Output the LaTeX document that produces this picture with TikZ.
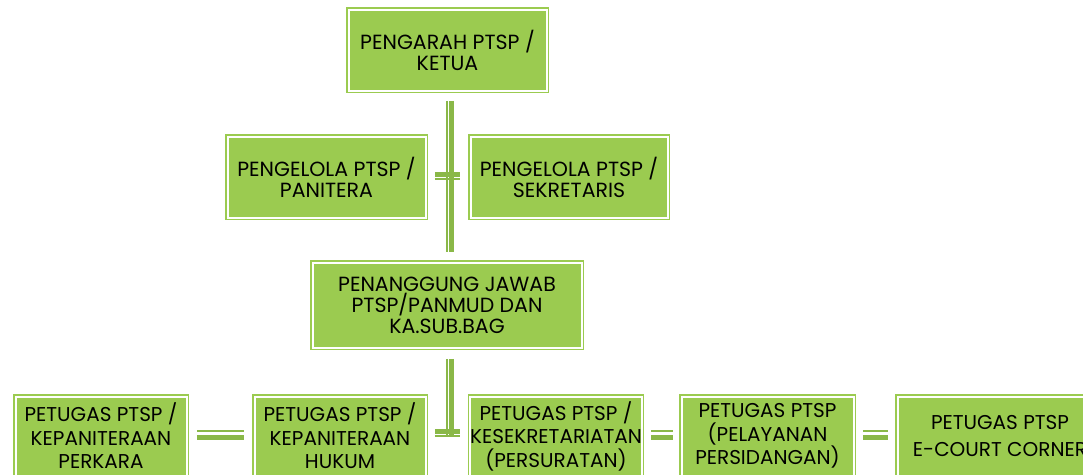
\documentclass[tikz,border=0pt]{standalone}
\usepackage{fontspec}
\setmainfont{Poppins}
\usetikzlibrary{calc}
\definecolor{boxgreen}{HTML}{9BCB50}
\definecolor{linegreen}{HTML}{8AB848}
\tikzset{
  orgbox/.style={draw=boxgreen, fill=boxgreen, double=white, double distance=2pt,
    line width=1.5pt, inner sep=0pt, align=center, text=black,
    font=\fontsize{20.5}{21}\selectfont},
  lowbox/.style={orgbox, minimum width=171pt, minimum height=79pt,
    font=\fontsize{20}{23.5}\selectfont},
  thickbar/.style={draw=linegreen, line width=5pt},
  thinbar/.style={draw=linegreen, line width=2pt},
}
\begin{document}
\begin{tikzpicture}[x=1pt,y=-1pt]
\useasboundingbox (0,0) rectangle (1083,474);
\clip (0,0) rectangle (1083,474);
% upper boxes
\node[orgbox, minimum width=198pt, minimum height=81pt] (top) at (447.5,50) {PENGARAH PTSP /\\KETUA};
\node[orgbox, minimum width=198pt, minimum height=81pt] (panitera) at (326.5,177) {PENGELOLA PTSP /\\PANITERA};
\node[orgbox, minimum width=197pt, minimum height=81pt] (sekretaris) at (569,177) {PENGELOLA PTSP /\\SEKRETARIS};
\node[orgbox, minimum width=269pt, minimum height=85pt] (pen) at (447,305) {PENANGGUNG JAWAB\\PTSP/PANMUD DAN\\KA.SUB.BAG};
% lower boxes
\node[lowbox] (b1) at (101,436) {PETUGAS PTSP /\\KEPANITERAAN\\PERKARA};
\node[lowbox] (b2) at (340,436) {PETUGAS PTSP /\\KEPANITERAAN\\HUKUM};
\node[lowbox] (b3) at (556,436) {PETUGAS PTSP /\\KESEKRETARIATAN\\(PERSURATAN)};
\node[lowbox, minimum width=172pt] (b4) at (767.5,436) {PETUGAS PTSP\\(PELAYANAN\\PERSIDANGAN)};
\node[lowbox, minimum width=205pt] (b5) at (1000,436) {PETUGAS PTSP\\[3pt]E-COURT CORNER};
% vertical trunk top -> pen
\draw[thickbar] ($(top.south)+(4,9.5)$) -- ($(pen.north)+(4.5,-9.5)$);
\draw[thinbar] ($(top.south)+(-0.5,9.5)$) -- ($(pen.north)+(0,-9.5)$);
% stub between pengelola boxes
\draw[thickbar] ($(panitera.east)+(8.5,-2.5)$) -- ($(sekretaris.west)+(-9.5,-2.5)$);
\draw[thinbar] ($(panitera.east)+(8.5,2)$) -- ($(sekretaris.west)+(-9.5,2)$);
% vertical pen -> lower row
\draw[thickbar] ($(pen.south)+(4.5,10.5)$) -- ($(pen.south |- b2.east)+(4.5,1)$);
\draw[thinbar] ($(pen.south)+(0,10.5)$) -- ($(pen.south |- b2.east)+(0,1)$);
\draw[thickbar] ($(b2.east)+(8.5,-4.5)$) -- ($(b3.west)+(-9.5,-4.5)$);
\draw[thinbar] ($(b2.east)+(8.5,0)$) -- ($(b3.west)+(-9.5,0)$);
% horizontal links in lower row
\draw[thinbar] ($(b1.east)+(9.5,-5.5)$) -- ($(b2.west)+(-9.5,-5.5)$);
\draw[thickbar] ($(b1.east)+(9.5,1)$) -- ($(b2.west)+(-9.5,1)$);
\draw[thinbar] ($(b3.east)+(8.5,-5.5)$) -- ($(b4.west)+(-7.5,-5.5)$);
\draw[thickbar] ($(b3.east)+(8.5,1)$) -- ($(b4.west)+(-7.5,1)$);
\draw[thinbar] ($(b4.east)+(8.5,-5.5)$) -- ($(b5.west)+(-8.5,-5.5)$);
\draw[thickbar] ($(b4.east)+(8.5,1)$) -- ($(b5.west)+(-8.5,1)$);
\end{tikzpicture}
\end{document}
